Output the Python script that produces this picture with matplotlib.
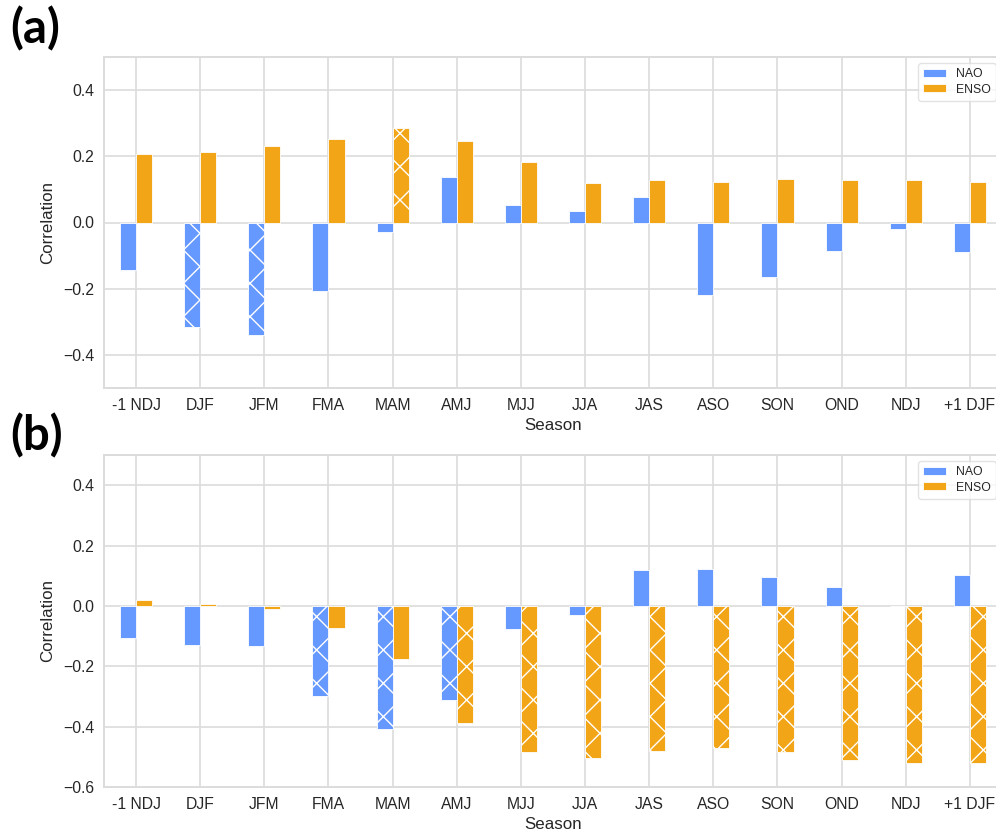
import matplotlib
matplotlib.use("Agg")
import matplotlib.pyplot as plt
import numpy as np

seasons = ["-1 NDJ", "DJF", "JFM", "FMA", "MAM", "AMJ", "MJJ", "JJA",
           "JAS", "ASO", "SON", "OND", "NDJ", "+1 DJF"]

# Panel (a) correlations
nao_a = [-0.142, -0.315, -0.341, -0.208, -0.029, 0.137, 0.052, 0.035,
         0.078, -0.219, -0.166, -0.087, -0.021, -0.090]
enso_a = [0.207, 0.213, 0.231, 0.251, 0.286, 0.247, 0.184, 0.119,
          0.128, 0.122, 0.131, 0.128, 0.128, 0.122]
nao_a_sig = [0, 1, 1, 0, 0, 0, 0, 0, 0, 0, 0, 0, 0, 0]
enso_a_sig = [0, 0, 0, 0, 1, 0, 0, 0, 0, 0, 0, 0, 0, 0]

# Panel (b) correlations
nao_b = [-0.107, -0.130, -0.134, -0.297, -0.409, -0.312, -0.075, -0.031,
         0.119, 0.123, 0.097, 0.062, 0.001, 0.104]
enso_b = [0.018, 0.005, -0.011, -0.072, -0.175, -0.387, -0.483, -0.505,
          -0.480, -0.470, -0.485, -0.512, -0.520, -0.520]
nao_b_sig = [0, 0, 0, 1, 1, 1, 0, 0, 0, 0, 0, 0, 0, 0]
enso_b_sig = [0, 0, 0, 0, 0, 1, 1, 1, 1, 1, 1, 1, 1, 1]

NAO_COLOR = "#6699ff"
ENSO_COLOR = "#f2a516"
GRID = "#dcdcdc"
TEXT = "#262626"

plt.rcParams["font.family"] = ["Liberation Sans", "DejaVu Sans"]
plt.rcParams["hatch.linewidth"] = 0.5
plt.rcParams["axes.unicode_minus"] = True

fig = plt.figure(figsize=(4.98, 4.165), dpi=200)

panels = [
    ("(a)", nao_a, enso_a, nao_a_sig, enso_a_sig, (-0.5, 0.5),
     [-0.4, -0.2, 0.0, 0.2, 0.4], [0.1044, 1 - 388 / 833, 0.9016, 331 / 833], 0.965),
    ("(b)", nao_b, enso_b, nao_b_sig, enso_b_sig, (-0.6, 0.5),
     [-0.6, -0.4, -0.2, 0.0, 0.2, 0.4], [0.1044, 1 - 787 / 833, 0.9016, 332 / 833], 0.4766),
]

x = np.arange(len(seasons))
w = 0.25

for tag, nao, enso, nsig, esig, ylim, yticks, pos, ty in panels:
    ax = fig.add_axes(pos)
    ax.set_axisbelow(True)
    ax.grid(True, color=GRID, linewidth=0.6)
    for s in ax.spines.values():
        s.set_color(GRID)
        s.set_linewidth(0.7)
    bn = ax.bar(x - w / 2, nao, w, color=NAO_COLOR, edgecolor="white",
                linewidth=0.3, label="NAO")
    be = ax.bar(x + w / 2, enso, w, color=ENSO_COLOR, edgecolor="white",
                linewidth=0.3, label="ENSO")
    # significant correlations are cross-hatched
    for rect, sig in zip(bn, nsig):
        if sig:
            rect.set_hatch("xx")
    for rect, sig in zip(be, esig):
        if sig:
            rect.set_hatch("xx")
    ax.set_xlim(-0.5, len(seasons) - 0.5)
    ax.set_ylim(*ylim)
    ax.set_yticks(yticks)
    ax.set_yticklabels([f"{v:.1f}".replace("-", "\u2212") for v in yticks])
    ax.set_xticks(x)
    ax.set_xticklabels(seasons)
    ax.tick_params(length=0, labelsize=5.7, colors=TEXT, pad=3.5)
    ax.set_xlabel("Season", fontsize=6.1, color=TEXT, labelpad=2)
    ax.set_ylabel("Correlation", fontsize=6.1, color=TEXT, labelpad=3)
    leg = ax.legend(loc="upper right", fontsize=4.4, frameon=True,
                    borderaxespad=0.5, handlelength=1.9, handleheight=0.6,
                    labelspacing=0.3, fancybox=True)
    leg.get_frame().set_edgecolor(GRID)
    leg.get_frame().set_linewidth(0.5)
    for t in leg.get_texts():
        t.set_color(TEXT)
    fig.text(0.01, ty, tag, fontsize=17, fontweight="bold",
             family=["Lato", "DejaVu Sans"], va="center", ha="left")

fig.savefig("out.png", dpi=200)
